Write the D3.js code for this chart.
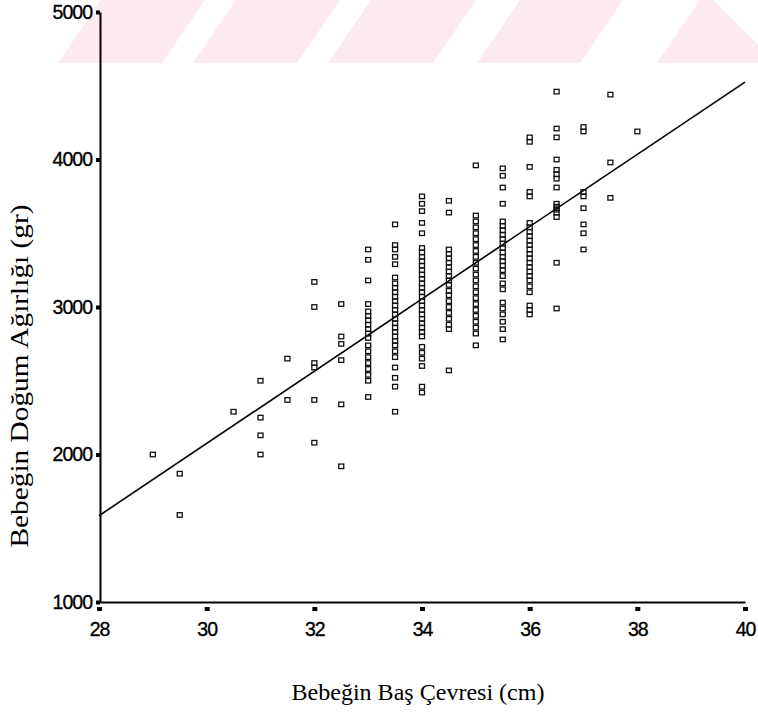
<!DOCTYPE html>
<html>
<head>
<meta charset="utf-8">
<script src="https://cdn.jsdelivr.net/npm/d3@7"></script>
<style>
  html, body { margin: 0; padding: 0; background: #fff; }
  svg { display: block; }
</style>
</head>
<body>
<svg id="chart" width="758" height="713"></svg>
<script>
// Head circumference (cm) groups and the birth weights (g) recorded in each
const headCircumference = [29, 29.5, 30.5, 31, 31.5, 32, 32.5, 33, 33.5, 34, 34.5, 35, 35.5, 36, 36.5, 37, 37.5, 38];
const birthWeight = [
  [2000],
  [1870, 1590],
  [2290],
  [2500, 2250, 2130, 2000],
  [2650, 2370],
  [3170, 3000, 2620, 2590, 2370, 2080],
  [3020, 2800, 2750, 2640, 2340, 1920],
  [3390, 3320, 3180, 3020, 2970, 2940, 2910, 2880, 2850, 2820, 2790, 2740, 2700, 2660, 2620, 2580, 2540, 2500, 2390],
  [3560, 3420, 3390, 3340, 3290, 3200, 3160, 3130, 3100, 3070, 3040, 3010, 2980, 2950, 2920, 2890, 2860, 2830, 2800, 2770, 2740, 2700, 2660, 2590, 2520, 2460, 2290],
  [3750, 3700, 3650, 3570, 3500, 3400, 3370, 3340, 3310, 3280, 3250, 3220, 3190, 3160, 3130, 3100, 3070, 3040, 3010, 2980, 2950, 2920, 2890, 2860, 2830, 2800, 2730, 2690, 2650, 2600, 2460, 2420],
  [3720, 3640, 3390, 3360, 3330, 3300, 3270, 3240, 3210, 3180, 3150, 3110, 3080, 3040, 3000, 2960, 2920, 2880, 2850, 2570],
  [3960, 3620, 3580, 3540, 3500, 3460, 3420, 3380, 3340, 3300, 3260, 3220, 3180, 3140, 3100, 3060, 3020, 2980, 2940, 2900, 2860, 2820, 2740],
  [3940, 3890, 3810, 3700, 3580, 3550, 3520, 3490, 3460, 3430, 3400, 3370, 3340, 3310, 3280, 3250, 3210, 3160, 3120, 3030, 2990, 2950, 2900, 2850, 2780],
  [4150, 4120, 3950, 3780, 3750, 3570, 3540, 3510, 3480, 3450, 3420, 3390, 3360, 3330, 3300, 3270, 3240, 3210, 3180, 3140, 3100, 3010, 2980, 2950],
  [4460, 4210, 4150, 4000, 3930, 3900, 3870, 3810, 3700, 3680, 3660, 3640, 3610, 3300, 2990],
  [4220, 4190, 3780, 3750, 3670, 3560, 3500, 3390],
  [4440, 3980, 3740],
  [4190]
];

// Least-squares line end points
const fitCircumference = [28, 40];
const fitWeight = [1585, 4525];

const xTicks = [28, 30, 32, 34, 36, 38, 40];
const yTicks = [1000, 2000, 3000, 4000, 5000];
const xTitle = "Bebeğin Baş Çevresi (cm)";
const yTitle = "Bebeğin Doğum Ağırlığı (gr)";

const svg = d3.select("#chart");

// Faint pink banner with diagonal white bands along the top edge
const banner = svg.append("g").attr("fill", "#fdeaee");
const bandH = 63, lean = 43;
[[58, 162], [193, 297], [328, 433], [477, 580]].forEach(([a, b]) => {
  banner.append("polygon")
    .attr("points", `${a},${bandH} ${b},${bandH} ${b + lean},0 ${a + lean},0`);
});
banner.append("polygon")
  .attr("points", `657,${bandH} 700,0 713,0 758,45 758,${bandH}`);

const x = d3.scaleLinear().domain([28, 40]).range([99, 745]);
const y = d3.scaleLinear().domain([1000, 5000]).range([602, 12]);

const points = [];
headCircumference.forEach((c, i) => birthWeight[i].forEach(w => points.push({ c, w })));

// Regression line
svg.append("line")
  .attr("x1", x(fitCircumference[0])).attr("y1", y(fitWeight[0]))
  .attr("x2", x(fitCircumference[1])).attr("y2", y(fitWeight[1]))
  .attr("stroke", "#000").attr("stroke-width", 1.6);

// Open square markers
const mw = 5, mh = 4.5;
svg.append("g")
  .selectAll("rect")
  .data(points)
  .join("rect")
  .attr("x", d => x(d.c) - mw / 2)
  .attr("y", d => y(d.w) - mh / 2)
  .attr("width", mw).attr("height", mh)
  .attr("fill", "none")
  .attr("stroke", "#111")
  .attr("stroke-width", 1.3);

// Axes
const yAxis = d3.axisLeft(y).tickValues(yTicks).tickSize(0).tickSizeOuter(0).tickPadding(8)
  .tickFormat(d3.format("d"));
const xAxis = d3.axisBottom(x).tickValues(xTicks).tickSize(0).tickSizeOuter(0).tickPadding(20)
  .tickFormat(d3.format("d"));

const gy = svg.append("g").attr("transform", "translate(100,0)").call(yAxis);
const gx = svg.append("g").attr("transform", "translate(0,602)").call(xAxis);

[gx, gy].forEach(g => {
  g.select(".domain").attr("stroke", "#000").attr("stroke-width", 2);
  g.selectAll("text")
    .attr("fill", "#000")
    .attr("stroke", "#000").attr("stroke-width", 0.35)
    .style("font-family", "'Liberation Sans', Arial, sans-serif")
    .style("font-size", "19.5px")
    .style("letter-spacing", "-1px");
});

// Small square tick marks
gy.selectAll(".tick").append("rect")
  .attr("x", -4).attr("y", -2).attr("width", 4).attr("height", 4).attr("fill", "#000");
gx.selectAll(".tick").append("rect")
  .attr("x", -2.5).attr("y", 5).attr("width", 5).attr("height", 4).attr("fill", "#000");

// Axis titles
svg.append("text")
  .attr("x", 418).attr("y", 700)
  .attr("text-anchor", "middle")
  .attr("textLength", 253).attr("lengthAdjust", "spacingAndGlyphs")
  .style("font-family", "'Liberation Serif', 'Times New Roman', serif")
  .style("font-size", "23px")
  .text(xTitle);

svg.append("text")
  .attr("transform", "translate(28,376) rotate(-90)")
  .attr("text-anchor", "middle")
  .attr("textLength", 343).attr("lengthAdjust", "spacingAndGlyphs")
  .style("font-family", "'Liberation Serif', 'Times New Roman', serif")
  .style("font-size", "26px")
  .text(yTitle);
</script>
</body>
</html>
